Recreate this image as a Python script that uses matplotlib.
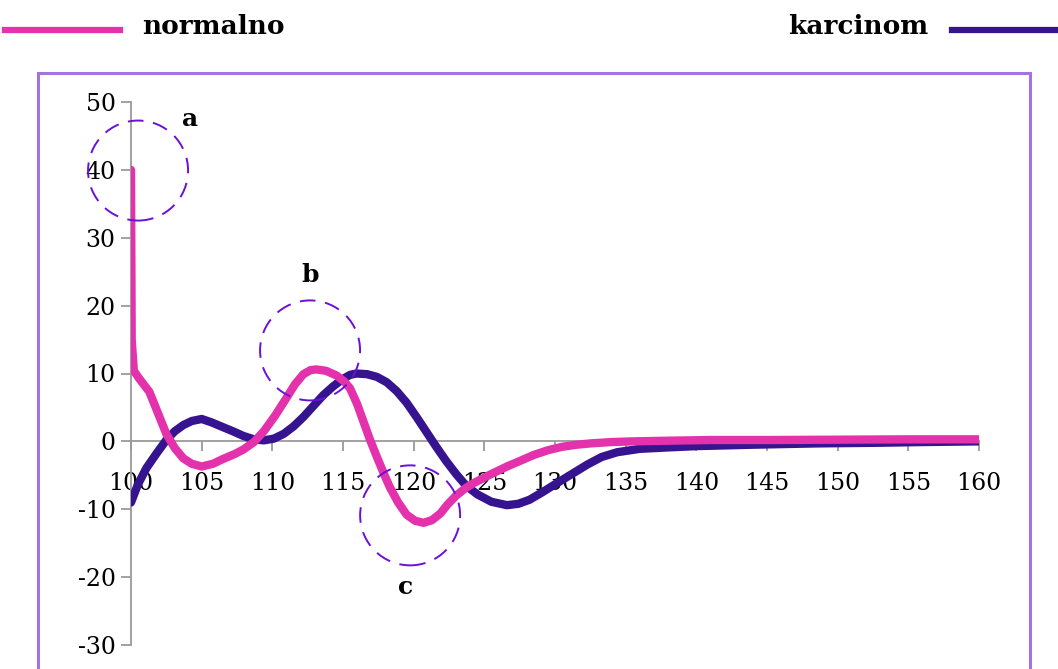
import matplotlib
matplotlib.use("Agg")
import matplotlib.pyplot as plt
from matplotlib.patches import Ellipse, Rectangle
from matplotlib.lines import Line2D

# ---- data ----
normalno_x = [100, 100.05, 100.2, 100.6, 101.3, 101.9, 102.5, 103.1, 103.7, 104.3, 105.0, 105.8, 106.5,
              107.3, 107.95, 108.7, 109.4, 110.2, 111.0, 111.6, 112.2, 112.7, 113.1, 113.8, 114.55, 115.1,
              115.5, 116.0, 116.45, 116.9, 117.4, 117.9, 118.3, 118.9, 119.5, 120.1, 120.7, 121.3, 121.9,
              122.4, 123.0, 123.6, 124.2, 125.4, 126.6, 127.5, 128.5, 129.5, 130.5, 131.5, 132.5, 134,
              135.5, 138, 141, 145, 150, 155, 160]
normalno_y = [40, 15, 10.4, 9.2, 7.3, 4.2, 1.1, -1.0, -2.5, -3.3, -3.7, -3.3, -2.6,
              -1.9, -1.2, -0.1, 1.5, 3.8, 6.4, 8.4, 9.9, 10.5, 10.6, 10.4, 9.7, 8.8,
              7.8, 5.5, 2.9, 0.3, -2.3, -4.8, -6.7, -9.0, -10.8, -11.7, -12.0, -11.6, -10.6,
              -9.3, -8.0, -7.0, -6.2, -4.9, -3.7, -2.9, -2.0, -1.3, -0.8, -0.5, -0.3, -0.1,
              0.0, 0.1, 0.2, 0.2, 0.25, 0.3, 0.3]

karcinom_x = [100, 100.5, 101.1, 101.8, 102.5, 103.1, 103.7, 104.3, 105.0, 105.7, 106.5, 107.2, 107.95,
              108.7, 109.4, 110.1, 110.8, 111.5, 112.2, 112.9, 113.6, 114.3, 115.0, 115.5, 115.95, 116.7,
              117.4, 118.1, 118.8, 119.5, 120.2, 120.9, 121.6, 122.3, 123.0, 123.7, 124.5, 125.5, 126.6,
              127.4, 128.2, 129.1, 130.1, 131.2, 132.3, 133.3, 134.4, 136, 137.9, 140, 143.8, 148.5,
              153, 156, 160]
karcinom_y = [-9.0, -6.3, -3.9, -1.8, 0.2, 1.5, 2.4, 3.0, 3.3, 2.8, 2.1, 1.5, 0.8,
              0.3, 0.15, 0.4, 1.1, 2.2, 3.6, 5.2, 6.8, 8.1, 9.2, 9.8, 10.0, 9.9,
              9.5, 8.7, 7.4, 5.7, 3.6, 1.4, -0.8, -2.9, -4.8, -6.5, -7.8, -8.9, -9.4,
              -9.2, -8.6, -7.5, -6.2, -4.8, -3.4, -2.3, -1.6, -1.1, -0.9, -0.7, -0.5, -0.3,
              -0.2, -0.1, 0.0]

x_ticks = [100, 105, 110, 115, 120, 125, 130, 135, 140, 145, 150, 155, 160]
y_ticks = [-30, -20, -10, 0, 10, 20, 30, 40, 50]

# annotation circles: label, center x, center y, label x, label y
circle_labels = ["a", "b", "c"]
circle_cx = [100.5, 112.67, 119.75]
circle_cy = [39.9, 13.4, -10.9]
label_x = [104.2, 112.65, 119.4]
label_y = [47.5, 24.5, -21.5]

PINK = "#e332ab"
DARK = "#37148f"
CIRC = "#6a10d8"
W, H = 1058, 669

fig = plt.figure(figsize=(W / 100, H / 100), dpi=100)

# outer chart frame
fig.patches.append(Rectangle((38 / W, -0.2), (1030 - 38) / W, 1.2 - 73 / H,
                             transform=fig.transFigure, fill=False, edgecolor="#a572e0",
                             linewidth=2.2, zorder=0))

ax = fig.add_axes([131 / W, (H - 645) / H, (979 - 131) / W, (645 - 102) / H])
ax.set_xlim(100, 160)
ax.set_ylim(-30, 50)
ax.patch.set_visible(False)

ax.plot(karcinom_x, karcinom_y, color=DARK, lw=6, solid_capstyle="round", solid_joinstyle="round", zorder=3)
ax.plot(normalno_x, normalno_y, color=PINK, lw=6, solid_capstyle="round", solid_joinstyle="round", zorder=4)

# circles in pixel-size (radius 50 px)
xpx = (979 - 131) / 60.0
ypx = (645 - 102) / 80.0
for lab, cx, cy, lx, ly in zip(circle_labels, circle_cx, circle_cy, label_x, label_y):
    e = Ellipse((cx, cy), 100 / xpx, 100 / ypx, fill=False, edgecolor=CIRC, lw=1.4,
                linestyle=(0, (8, 5)), clip_on=False, zorder=5)
    ax.add_patch(e)
    ax.text(lx, ly, lab, fontsize=18, fontweight="bold", family="DejaVu Serif",
            ha="center", va="center", zorder=6)

for s in ["top", "right"]:
    ax.spines[s].set_visible(False)
ax.spines["bottom"].set_position(("data", 0))
ax.spines["left"].set_position(("data", 100))
for s in ["left", "bottom"]:
    ax.spines[s].set_color("#9a9a9a")
    ax.spines[s].set_linewidth(1.3)

ax.set_xticks(x_ticks)
ax.set_yticks(y_ticks)
ax.set_xticklabels([str(v) for v in x_ticks], family="DejaVu Serif", fontsize=17)
ax.set_yticklabels([str(v) for v in y_ticks], family="DejaVu Serif", fontsize=17)
ax.tick_params(axis="x", direction="out", length=7, width=1.3, color="#9a9a9a", pad=15)
ax.tick_params(axis="y", direction="out", length=7, width=1.3, color="#9a9a9a", pad=4)

# legend at top
fig.add_artist(Line2D([5 / W, 120 / W], [1 - 30 / H, 1 - 30 / H], color=PINK, lw=4.5,
                      transform=fig.transFigure))
fig.text(142 / W, 1 - 26 / H, "normalno", fontsize=19, fontweight="bold",
         family="DejaVu Serif", ha="left", va="center")
fig.add_artist(Line2D([952 / W, 1.0], [1 - 30 / H, 1 - 30 / H], color=DARK, lw=4.5,
                      transform=fig.transFigure))
fig.text(928 / W, 1 - 26 / H, "karcinom", fontsize=19, fontweight="bold",
         family="DejaVu Serif", ha="right", va="center")

fig.savefig("out.png", dpi=100)
